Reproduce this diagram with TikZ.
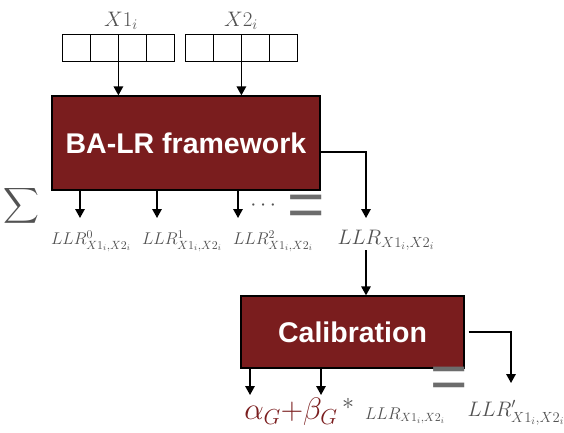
\RequirePackage{fix-cm}
\documentclass[tikz,border=0pt]{standalone}
\usepackage{amsmath}
\usepackage{fontspec}
\usetikzlibrary{arrows.meta}
\newfontfamily\boxfont{Liberation Sans}
\definecolor{darkred}{RGB}{122,29,30}
\definecolor{txtgray}{RGB}{82,82,82}

\begin{document}
\begin{tikzpicture}[
    x=1pt, y=-1pt,
    cell/.style={rectangle, draw, minimum width=28pt, minimum height=27pt, inner sep=0pt, line width=0.8pt},
    block/.style={rectangle, draw, fill=darkred, text=white, inner sep=0pt, line width=1.3pt, font=\boxfont\bfseries\fontsize{28.5}{32}\selectfont},
    lbl/.style={text=txtgray, inner sep=0pt, font=\fontsize{17}{19}\selectfont},
    eqsign/.style={text=txtgray!85, inner sep=0pt, font=\boxfont\fontsize{64}{66}\selectfont},
    arr/.style={-{Triangle[length=9pt,width=9.5pt]}, line width=1.5pt},
]
\useasboundingbox (0,0) rectangle (564,432);

% input vectors
\node[lbl, font=\fontsize{21}{23}\selectfont] (x1) at (121,21) {$X1_i$};
\node[lbl, font=\fontsize{21}{23}\selectfont] (x2) at (241,21) {$X2_i$};

\node[cell] (a1) at (76,47.5) {};
\node[cell] (a2) at (104,47.5) {};
\node[cell] (a3) at (132,47.5) {};
\node[cell] (a4) at (160,47.5) {};

\node[cell] (b1) at (199,47.5) {};
\node[cell] (b2) at (227,47.5) {};
\node[cell] (b3) at (255,47.5) {};
\node[cell] (b4) at (283,47.5) {};

% main blocks
\node[block, minimum width=268pt, minimum height=94pt] (balr) at (186,143) {BA-LR framework};
\node[block, minimum width=223pt, minimum height=72pt] (calib) at (352.5,332) {Calibration};

\draw[arr] (a2.south east) -- (a2.south east |- balr.north);
\draw[arr] (b2.south east) -- (b2.south east |- balr.north);

% sum of the partial LLRs
\node[lbl, font=\fontsize{23}{25}\selectfont] (sum) at (21,206) {$\displaystyle\sum$};
\node[lbl] (llr0) at (91,241) {$LLR^{0}_{X1_i,X2_i}$};
\node[lbl] (llr1) at (182,241) {$LLR^{1}_{X1_i,X2_i}$};
\node[lbl] (llr2) at (273,241) {$LLR^{2}_{X1_i,X2_i}$};
\node[lbl, font=\fontsize{22}{24}\selectfont] (dots) at (265,206) {$\cdots$};
\node[eqsign] (eq1) at (306,210.5) {=};
\node[lbl, font=\fontsize{21}{23}\selectfont] (llr) at (386,240) {$LLR_{X1_i,X2_i}$};

\coordinate (o0) at (80,218);
\coordinate (o1) at (157,218);
\coordinate (o2) at (238,218);
\coordinate (o3) at (366,218);

\draw[arr] (o0 |- balr.south) -- (o0);
\draw[arr] (o1 |- balr.south) -- (o1);
\draw[arr] (o2 |- balr.south) -- (o2);
\draw[arr] ([yshift=-9pt]balr.east) -| (o3);
\draw[arr] (llr.south -| o3) -- (o3 |- calib.north);

% calibration output
\node[lbl, font=\fontsize{31}{33}\selectfont, text=darkred] (ab) at (291,412) {$\alpha_G{+}\beta_G$};
\node[lbl, font=\fontsize{24}{26}\selectfont] (mul) at (348,404) {$*$};
\node[lbl] (llrs) at (405,416) {$LLR_{X1_i,X2_i}$};
\node[eqsign] (eq2) at (449,383) {=};
\node[lbl, font=\fontsize{21}{23}\selectfont] (llrc) at (516,413) {$LLR'_{X1_i,X2_i}$};

\coordinate (c0) at (250,395);
\coordinate (c1) at (321,395);
\coordinate (c2) at (511,383);

\draw[arr] (c0 |- calib.south) -- (c0);
\draw[arr] (c1 |- calib.south) -- (c1);
\draw[arr] ([xshift=4pt]calib.east) -| (c2);

\end{tikzpicture}
\end{document}
